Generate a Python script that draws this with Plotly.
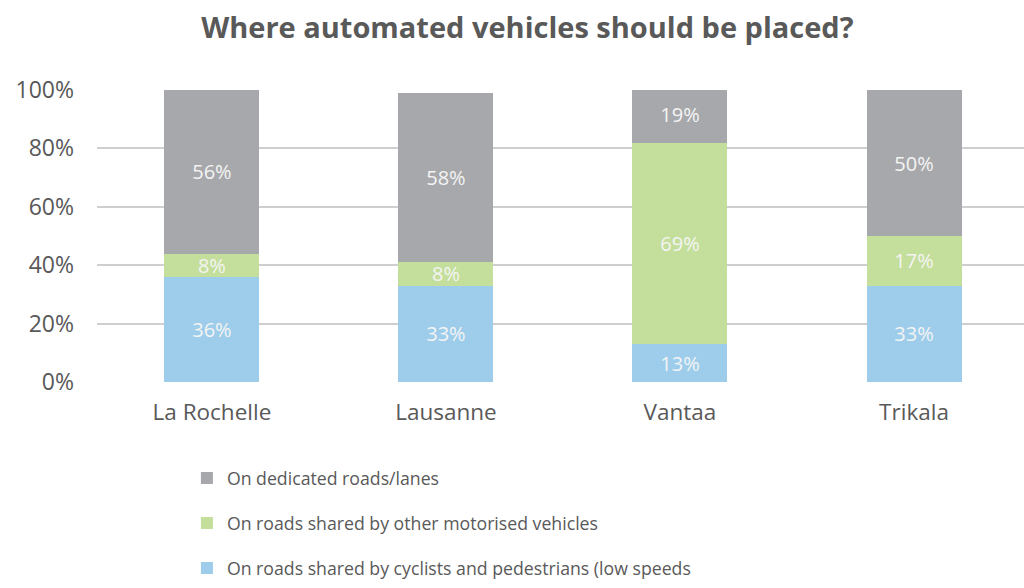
import plotly.graph_objects as go

cities = ["La Rochelle", "Lausanne", "Vantaa", "Trikala"]
cyclists_pedestrians = [36, 33, 13, 33]
motorised_shared = [8, 8, 69, 17]
dedicated_lanes = [56, 58, 19, 50]

# (legend name, values, colour, legend rank) – stacked bottom to top
series = [
    ("On roads shared by cyclists and pedestrians (low speeds", cyclists_pedestrians, "#9DCDEB", 3),
    ("On roads shared by other motorised vehicles", motorised_shared, "#C4DF9B", 2),
    ("On dedicated roads/lanes", dedicated_lanes, "#A7A8AB", 1),
]

font_family = "'Open Sans', Lato, sans-serif"
text_grey = "#595959"

fig = go.Figure()
for i, (name, vals, color, rank) in enumerate(series):
    fig.add_trace(go.Bar(
        x=cities,
        y=vals,
        name=name,
        legendgroup=f"g{i}",
        legendrank=rank,
        marker=dict(color=color, line=dict(width=0)),
        width=0.406,
        text=[f"{v}%" for v in vals],
        textposition="inside",
        insidetextanchor="middle",
        textangle=0,
        textfont=dict(color="#F4F4F4", size=20, family=font_family),
    ))

fig.update_layout(
    barmode="stack",
    width=1024,
    height=588,
    margin=dict(l=97, r=0, t=90, b=206, autoexpand=False),
    paper_bgcolor="white",
    plot_bgcolor="white",
    title=dict(
        text="<b>Where automated vehicles should be placed?</b>",
        x=0.515, xanchor="center",
        y=0.953, yanchor="middle",
        font=dict(family=font_family, size=29, color=text_grey),
    ),
    uniformtext=dict(minsize=20, mode="show"),
    legend=dict(
        orientation="v",
        x=0.097, xref="paper",
        y=1 - 460 / 588, yref="container", yanchor="top",
        traceorder="grouped",
        tracegroupgap=19,
        font=dict(family=font_family, size=17.7, color=text_grey),
        bgcolor="rgba(0,0,0,0)",
        itemwidth=30,
    ),
    xaxis=dict(
        range=[-0.491, 3.47],
        showgrid=False,
        showline=False,
        ticks="",
        ticklabelstandoff=14,
        tickfont=dict(family=font_family, size=22.5, color=text_grey),
    ),
    yaxis=dict(
        range=[0, 100],
        tickvals=[0, 20, 40, 60, 80, 100],
        ticktext=["0%", "20%", "40%", "60%", "80%", "100%"],
        showgrid=True,
        gridcolor="#CFCFD1",
        gridwidth=2,
        zeroline=False,
        showline=False,
        ticks="",
        ticklabelstandoff=22,
        tickfont=dict(family=font_family, size=23, color=text_grey),
    ),
)

fig.write_html("out.html")
